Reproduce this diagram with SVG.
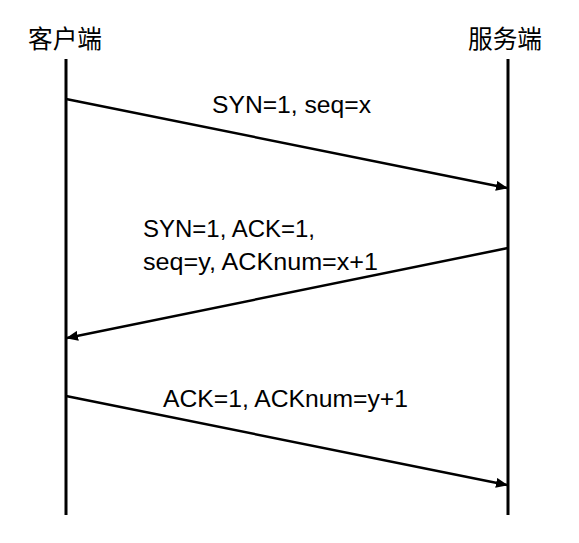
<svg xmlns="http://www.w3.org/2000/svg" width="579" height="543" viewBox="0 0 579 543">
<style>
.t{font-family:"Liberation Sans","Noto Sans CJK SC",sans-serif;font-size:23px;fill:#000}
.h{font-family:"Noto Sans CJK SC",sans-serif;font-size:25px;fill:#000}
.life{stroke:#000;stroke-width:3;fill:none}
.msg{stroke:#000;stroke-width:2.5;fill:none;marker-end:url(#a)}
</style>
<defs>
<marker id="a" markerWidth="12" markerHeight="10" refX="11" refY="5" orient="auto" markerUnits="userSpaceOnUse">
<path d="M0,0 L12,5 L0,10 Z" fill="#000"/>
</marker>
</defs>
<rect width="579" height="543" fill="#fff"/>
<g id="client">
<text class="h" x="65" y="48" text-anchor="middle" textLength="74" lengthAdjust="spacingAndGlyphs">客户端</text>
<line class="life" x1="66" y1="59" x2="66" y2="515"/>
</g>
<g id="server">
<text class="h" x="505" y="48" text-anchor="middle" textLength="74" lengthAdjust="spacingAndGlyphs">服务端</text>
<line class="life" x1="508" y1="59" x2="508" y2="515"/>
</g>
<g id="connectors">
<line class="msg" x1="66" y1="99" x2="507" y2="188"/>
<line class="msg" x1="508" y1="248" x2="67" y2="338"/>
<line class="msg" x1="66" y1="396" x2="507" y2="485"/>
</g>
<g id="labels">
<text class="t" x="212" y="113" textLength="159" lengthAdjust="spacingAndGlyphs">SYN=1, seq=x</text>
<text class="t" x="143" y="237" textLength="172" lengthAdjust="spacingAndGlyphs">SYN=1, ACK=1,</text>
<text class="t" x="143" y="270" textLength="235" lengthAdjust="spacingAndGlyphs">seq=y, ACKnum=x+1</text>
<text class="t" x="163" y="407" textLength="245" lengthAdjust="spacingAndGlyphs">ACK=1, ACKnum=y+1</text>
</g>
</svg>
